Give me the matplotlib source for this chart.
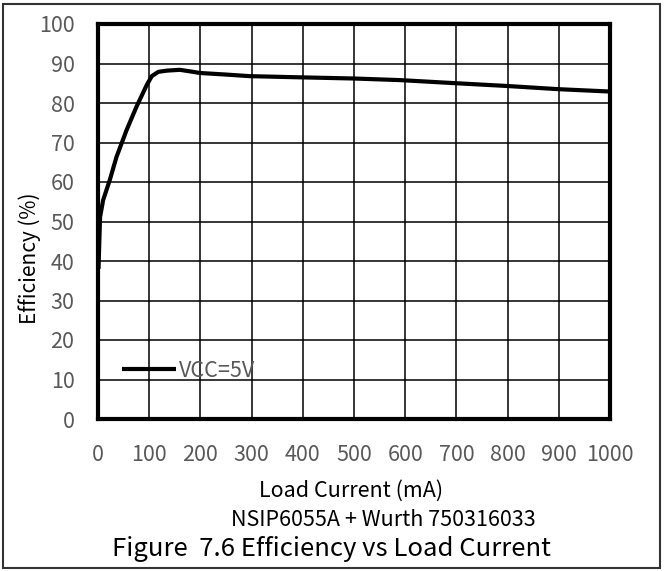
import matplotlib
matplotlib.use("Agg")
import matplotlib.pyplot as plt
from matplotlib.patches import Rectangle

plt.rcParams['font.family'] = ['Noto Sans CJK SC', 'DejaVu Sans']

# Efficiency curve (load current in mA, efficiency in %)
load_ma = [1, 4, 10, 23, 36, 56, 75, 95, 105, 118, 135, 160, 180, 199, 250, 296, 394, 500, 589, 700, 800, 899, 1000]
eff_pct = [38, 51.1, 55.4, 60.5, 66.3, 73.2, 79, 84.5, 86.8, 87.9, 88.2, 88.4, 88.0, 87.6, 87.2, 86.8, 86.5, 86.2, 85.8, 85.0, 84.3, 83.5, 82.9]

x_ticks = list(range(0, 1001, 100))
y_ticks = list(range(0, 101, 10))

W, H = 670, 571
fig = plt.figure(figsize=(W / 100, H / 100), dpi=100)
ax = fig.add_axes([98 / W, 1 - 419 / H, 512 / W, 395 / H])

ax.plot(load_ma, eff_pct, color='black', linewidth=3, label='VCC=5V',
        solid_capstyle='butt', solid_joinstyle='round')

ax.set_xlim(0, 1000)
ax.set_ylim(0, 100)
ax.set_xticks(x_ticks)
ax.set_yticks(y_ticks)
ax.grid(True, color='black', linewidth=1.1)
ax.tick_params(length=0, labelsize=15.5, labelcolor='#595959')
ax.tick_params(axis='x', pad=18)
ax.tick_params(axis='y', pad=17)
for s in ax.spines.values():
    s.set_linewidth(3)
    s.set_color('black')

leg = ax.legend(loc='lower left', bbox_to_anchor=(0.025, 0.067), frameon=False,
                fontsize=15.5, handlelength=2.55, handletextpad=0.1, borderpad=0)
for t in leg.get_texts():
    t.set_color('#595959')

fig.text(30 / W, 1 - 258 / H, 'Efficiency (%)', rotation=90, ha='center', va='center', fontsize=15)
fig.text(351 / W, 1 - 491 / H, 'Load Current (mA)', ha='center', va='center', fontsize=15.5)
fig.text(383 / W, 1 - 520 / H, 'NSIP6055A + Wurth 750316033', ha='center', va='center', fontsize=15.5)
fig.text(331 / W, 1 - 549 / H, 'Figure  7.6 Efficiency vs Load Current', ha='center', va='center', fontsize=18.5)

# outer frame
fig.patches.append(Rectangle((3 / W, 1 - 568 / H), 657 / W, 564 / H, transform=fig.transFigure,
                             fill=False, edgecolor='#333333', linewidth=1.5))

fig.savefig('out.png', dpi=100)
